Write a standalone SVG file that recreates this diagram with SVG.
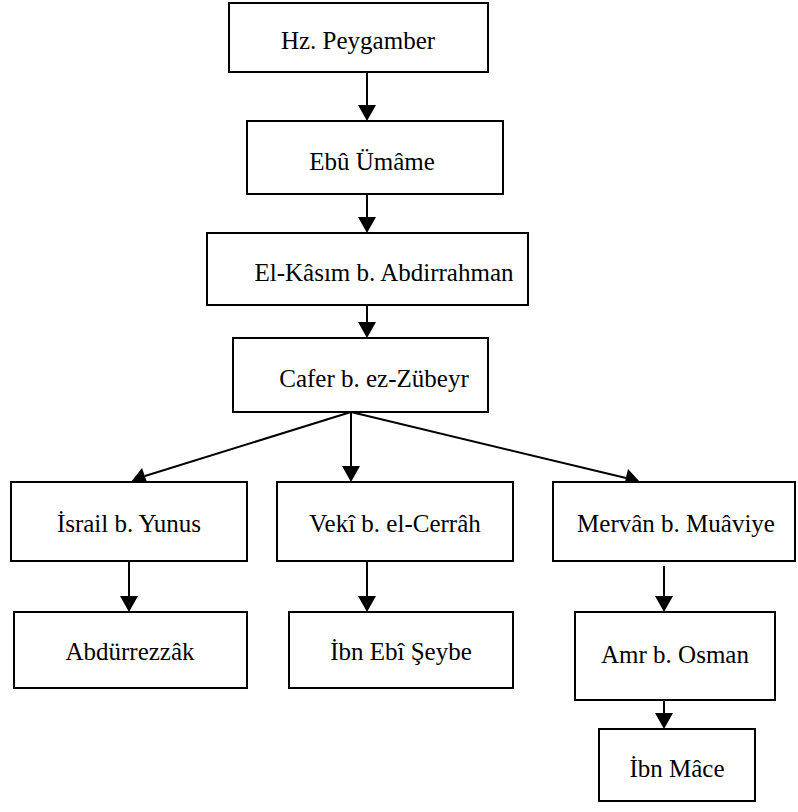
<svg xmlns="http://www.w3.org/2000/svg" width="798" height="812" viewBox="0 0 798 812">
<defs>
<style>
.box{fill:#fff;stroke:#000;stroke-width:2}
.t{font-family:"Liberation Serif","Times New Roman",serif;font-size:25px;fill:#000;text-anchor:middle}
.ln{stroke:#000;stroke-width:2;fill:none}
.hd{fill:#000}
</style>
</defs>
<rect width="798" height="812" fill="#fff"/>
<g id="connectors">
<line class="ln" x1="367" y1="72" x2="367" y2="108"/>
<path class="hd" d="M358,105 L376,105 L367,121 Z"/>
<line class="ln" x1="367" y1="194" x2="367" y2="220"/>
<path class="hd" d="M358,217 L376,217 L367,233 Z"/>
<line class="ln" x1="367" y1="305" x2="367" y2="325"/>
<path class="hd" d="M358,322 L376,322 L367,338 Z"/>
<line class="ln" x1="351" y1="412" x2="351" y2="470"/>
<path class="hd" d="M342,466 L360,466 L351,482 Z"/>
<line class="ln" x1="351" y1="412" x2="145" y2="476"/>
<path class="hd" d="M131,482 L142,468 L148,485 Z"/>
<line class="ln" x1="351" y1="412" x2="626" y2="478"/>
<path class="hd" d="M640,482 L624,486 L628,469 Z"/>
<line class="ln" x1="129" y1="561" x2="129" y2="600"/>
<path class="hd" d="M120,596 L138,596 L129,612 Z"/>
<line class="ln" x1="367" y1="561" x2="367" y2="600"/>
<path class="hd" d="M358,596 L376,596 L367,612 Z"/>
<line class="ln" x1="664" y1="566" x2="664" y2="600"/>
<path class="hd" d="M655,596 L673,596 L664,612 Z"/>
<line class="ln" x1="664" y1="700" x2="664" y2="716"/>
<path class="hd" d="M655,713 L673,713 L664,729 Z"/>
</g>
<g id="n1"><rect class="box" x="229" y="3" width="259" height="69"/><text class="t" x="358" y="49">Hz. Peygamber</text></g>
<g id="n2"><rect class="box" x="247" y="121" width="256" height="73"/><text class="t" x="372" y="170">Ebû Ümâme</text></g>
<g id="n3"><rect class="box" x="207" y="233" width="321" height="72"/><text class="t" x="384" y="281">El-Kâsım b. Abdirrahman</text></g>
<g id="n4"><rect class="box" x="233" y="338" width="255" height="74"/><text class="t" x="374" y="387">Cafer b. ez-Zübeyr</text></g>
<g id="n5"><rect class="box" x="11" y="482" width="236" height="79"/><text class="t" x="129" y="532">İsrail b. Yunus</text></g>
<g id="n6"><rect class="box" x="277" y="482" width="236" height="79"/><text class="t" x="395" y="532">Vekî b. el-Cerrâh</text></g>
<g id="n7"><rect class="box" x="553" y="482" width="242" height="79"/><text class="t" x="676" y="532">Mervân b. Muâviye</text></g>
<g id="n8"><rect class="box" x="14" y="612" width="233" height="76"/><text class="t" x="130" y="660">Abdürrezzâk</text></g>
<g id="n9"><rect class="box" x="289" y="612" width="224" height="76"/><text class="t" x="401" y="660">İbn Ebî Şeybe</text></g>
<g id="n10"><rect class="box" x="575" y="612" width="200" height="88"/><text class="t" x="675" y="663">Amr b. Osman</text></g>
<g id="n11"><rect class="box" x="599" y="729" width="156" height="72"/><text class="t" x="677" y="777">İbn Mâce</text></g>
</svg>
